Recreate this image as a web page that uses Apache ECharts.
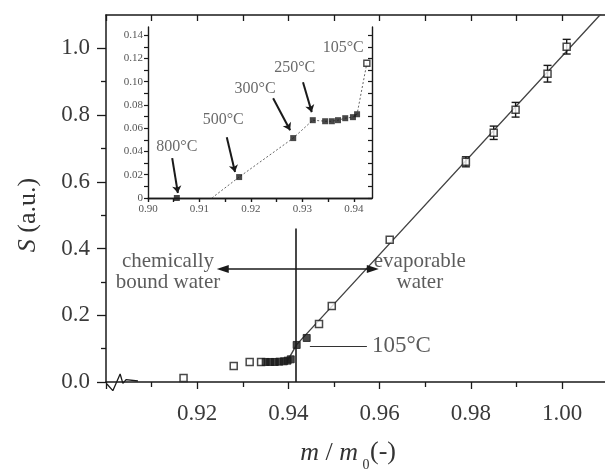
<!DOCTYPE html>
<html><head><meta charset="utf-8">
<script src="https://cdn.jsdelivr.net/npm/echarts@6/dist/echarts.min.js"></script>
<style>html,body{margin:0;padding:0;background:#fff}#c{width:605px;height:470px}</style>
</head><body><div id="c"></div>
<script>
// ---- main plot data ----
const openX = [0.9170, 0.9280, 0.9315, 0.9340, 0.9467, 0.9495, 0.9622, 0.9789, 0.9850, 0.9898, 0.9968, 1.0010];
const openY = [0.012, 0.048, 0.060, 0.060, 0.174, 0.228, 0.426, 0.660, 0.747, 0.816, 0.924, 1.005];
const openErr = [0, 0, 0, 0, 0, 0, 0, 0.015, 0.020, 0.022, 0.025, 0.022];
const filledX = [0.9350, 0.9360, 0.9370, 0.9380, 0.9390, 0.9398, 0.9405, 0.9418, 0.9440];
const filledY = [0.060, 0.060, 0.060, 0.061, 0.062, 0.064, 0.068, 0.111, 0.132];
const fitX = [0.9398, 0.9418, 1.0087];
const fitY = [0.064, 0.112, 1.106];
const noiseX = [0.9002, 0.9015, 0.9031, 0.9037, 0.9044, 0.9048, 0.9070];
const noiseY = [-0.006, -0.026, 0.024, -0.004, 0.007, 0.003, 0.003];
const xMajor = [0.90, 0.92, 0.94, 0.96, 0.98, 1.00];
const xLabels = [0.92, 0.94, 0.96, 0.98, 1.00];
const xMinor = [0.91, 0.93, 0.95, 0.97, 0.99];
const yMajor = [0.0, 0.2, 0.4, 0.6, 0.8, 1.0];
const yMinor = [0.1, 0.3, 0.5, 0.7, 0.9];
// annotations (data coordinates)
const vLineX = 0.9416, vLineY = [0, 0.46];
const arrowY = 0.339, arrowX = [0.9256, 0.9585];
const leadY = 0.108, leadX = [0.9447, 0.9572];
const noteText = ['chemically\nbound water', 'evaporable\nwater'];
const noteX = [0.9136, 0.9688];
const noteY = [0.330, 0.330];
const tempText = '105°C', tempX = 0.9583, tempY = 0.108;

// ---- inset data ----
const insetFX = [0.9056, 0.9177, 0.9282, 0.9320, 0.9344, 0.9357, 0.9369, 0.9383, 0.9398, 0.9406];
const insetFY = [0.000, 0.018, 0.0515, 0.0669, 0.0660, 0.0660, 0.0669, 0.0686, 0.0695, 0.0720];
const insetOX = [0.9425];
const insetOY = [0.1158];
const insetLineX = [0.9124, 0.9177, 0.9282, 0.9320, 0.9344, 0.9357, 0.9369, 0.9383, 0.9398, 0.9406, 0.9425];
const insetLineY = [0.000, 0.018, 0.0515, 0.0669, 0.0660, 0.0660, 0.0669, 0.0686, 0.0695, 0.0720, 0.1158];
const insetLabels = ['800°C', '500°C', '300°C', '250°C', '105°C'];
const insetLabX = [0.9056, 0.9146, 0.9208, 0.9285, 0.9379];
const insetLabY = [0.0437, 0.0669, 0.0943, 0.1123, 0.1295];
const arrFromX = [0.9047, 0.9153, 0.9243, 0.9301];
const arrFromY = [0.0343, 0.0523, 0.0858, 0.0995];
const arrToX = [0.9058, 0.9169, 0.9276, 0.9318];
const arrToY = [0.0043, 0.0223, 0.0583, 0.0738];
const insXTicks = [0.90, 0.905, 0.91, 0.915, 0.92, 0.925, 0.93, 0.935, 0.94];
const insXLabels = [0.90, 0.91, 0.92, 0.93, 0.94];
const insYTicks = [0, 0.01, 0.02, 0.03, 0.04, 0.05, 0.06, 0.07, 0.08, 0.09, 0.10, 0.11, 0.12, 0.13, 0.14];
const insYLabels = [0, 0.02, 0.04, 0.06, 0.08, 0.10, 0.12, 0.14];

const FONT = "'Liberation Serif','Times New Roman',serif";
const INK = '#1a1a1a';
const TXT = '#3a3a3a';
const X_MAX = 1.0094;

const chart = echarts.init(document.getElementById('c'), null, {renderer: 'canvas'});
const zip = (a, b) => a.map((v, i) => [v, b[i]]);
const lineStyleAxis = {color: INK, width: 1.5};

const option = {
  animation: false,
  backgroundColor: '#fff',
  grid: [
    {left: 106, top: 15, right: 0, height: 367},
    {left: 148, top: 27, width: 224, height: 171}
  ],
  xAxis: [
    {gridIndex: 0, type: 'value', min: 0.90, max: X_MAX, position: 'bottom',
      axisLine: {lineStyle: lineStyleAxis}, splitLine: {show: false},
      axisTick: {show: true, inside: false, length: 7, lineStyle: {color: INK, width: 1.3}, customValues: xMajor},
      axisLabel: {customValues: xLabels, formatter: v => v.toFixed(2), fontFamily: FONT, fontSize: 23, color: TXT, margin: 20}},
    {gridIndex: 0, type: 'value', min: 0.90, max: X_MAX, position: 'bottom',
      axisLine: {show: false}, splitLine: {show: false},
      axisTick: {show: true, inside: false, length: 5, lineStyle: {color: INK, width: 1.3}, customValues: xMinor},
      axisLabel: {show: false}},
    {gridIndex: 0, type: 'value', min: 0.90, max: X_MAX, position: 'top',
      axisLine: {lineStyle: lineStyleAxis}, splitLine: {show: false},
      axisTick: {show: true, inside: true, length: 6, lineStyle: {color: INK, width: 1.3}, customValues: xMajor.concat(xMinor)},
      axisLabel: {show: false}},
    {gridIndex: 1, type: 'value', min: 0.90, max: 0.9435, position: 'bottom',
      axisLine: {lineStyle: {color: INK, width: 1.4}}, splitLine: {show: false},
      axisTick: {show: true, inside: false, length: 4, lineStyle: {color: INK, width: 1.2}, customValues: insXTicks},
      axisLabel: {customValues: insXLabels, formatter: v => v.toFixed(2), fontFamily: FONT, fontSize: 11, color: '#555', margin: 6}},
    {gridIndex: 1, type: 'value', min: 0.90, max: 0.9435, position: 'top',
      axisLine: {lineStyle: {color: INK, width: 1.4}}, splitLine: {show: false},
      axisTick: {show: true, inside: true, length: 4, lineStyle: {color: INK, width: 1.2}, customValues: insXTicks},
      axisLabel: {show: false}}
  ],
  yAxis: [
    {gridIndex: 0, type: 'value', min: 0, max: 1.1, position: 'left',
      axisLine: {lineStyle: lineStyleAxis}, splitLine: {show: false},
      axisTick: {show: true, inside: false, length: 9, lineStyle: {color: INK, width: 1.3}, customValues: yMajor},
      axisLabel: {customValues: yMajor, formatter: v => v.toFixed(1), fontFamily: FONT, fontSize: 23, color: TXT, margin: 16}},
    {gridIndex: 0, type: 'value', min: 0, max: 1.1, position: 'left',
      axisLine: {show: false}, splitLine: {show: false},
      axisTick: {show: true, inside: false, length: 5, lineStyle: {color: INK, width: 1.3}, customValues: yMinor},
      axisLabel: {show: false}},
    {gridIndex: 1, type: 'value', min: 0, max: 0.147, position: 'left',
      axisLine: {lineStyle: {color: INK, width: 1.4}}, splitLine: {show: false},
      axisTick: {show: true, inside: false, length: 4, lineStyle: {color: INK, width: 1.2}, customValues: insYTicks},
      axisLabel: {customValues: insYLabels, formatter: v => v === 0 ? '0' : v.toFixed(2), fontFamily: FONT, fontSize: 11, color: '#555', margin: 5}},
    {gridIndex: 1, type: 'value', min: 0, max: 0.147, position: 'right',
      axisLine: {lineStyle: {color: INK, width: 1.4}}, splitLine: {show: false},
      axisTick: {show: true, inside: true, length: 4, lineStyle: {color: INK, width: 1.2}, customValues: insYTicks},
      axisLabel: {show: false}}
  ],
  series: [
    // fit line + annotation lines
    {type: 'line', xAxisIndex: 0, yAxisIndex: 0, data: zip(fitX, fitY), symbol: 'none',
      lineStyle: {color: '#444', width: 1.4}, z: 2,
      markLine: {silent: true, symbol: 'none', label: {show: false}, animation: false,
        data: [
          [{coord: [vLineX, vLineY[0]], lineStyle: {color: INK, width: 1.6, type: 'solid'}}, {coord: [vLineX, vLineY[1]]}],
          [{coord: [arrowX[0], arrowY], symbol: 'triangle', symbolSize: [8, 12], symbolRotate: 90, lineStyle: {color: INK, width: 1.5, type: 'solid'}},
           {coord: [arrowX[1], arrowY], symbol: 'triangle', symbolSize: [8, 12], symbolRotate: -90}],
          [{coord: [leadX[0], leadY], lineStyle: {color: '#333', width: 1.1, type: 'solid'}}, {coord: [leadX[1], leadY]}]
        ]}},
    {type: 'line', xAxisIndex: 0, yAxisIndex: 0, data: zip(noiseX, noiseY), symbol: 'none', clip: false,
      lineStyle: {color: INK, width: 1.3}, z: 3},
    // error bars
    {type: 'custom', xAxisIndex: 0, yAxisIndex: 0, z: 3,
      data: openX.map((x, i) => [x, openY[i] - openErr[i], openY[i] + openErr[i]]).filter(d => d[2] > d[1]),
      renderItem: (params, api) => {
        const lo = api.coord([api.value(0), api.value(1)]);
        const hi = api.coord([api.value(0), api.value(2)]);
        const w = 4, st = {stroke: INK, lineWidth: 1.4};
        return {type: 'group', children: [
          {type: 'line', shape: {x1: lo[0], y1: lo[1], x2: hi[0], y2: hi[1]}, style: st},
          {type: 'line', shape: {x1: lo[0] - w, y1: lo[1], x2: lo[0] + w, y2: lo[1]}, style: st},
          {type: 'line', shape: {x1: hi[0] - w, y1: hi[1], x2: hi[0] + w, y2: hi[1]}, style: st}
        ]};
      }},
    {type: 'scatter', xAxisIndex: 0, yAxisIndex: 0, data: zip(openX, openY), symbol: 'rect', symbolSize: 7,
      itemStyle: {color: '#fff', borderColor: INK, borderWidth: 1.5}, z: 5},
    {type: 'scatter', xAxisIndex: 0, yAxisIndex: 0, data: zip(filledX, filledY), symbol: 'rect', symbolSize: 7,
      itemStyle: {color: INK, borderColor: INK, borderWidth: 1}, z: 5},
    // main texts
    {type: 'scatter', xAxisIndex: 0, yAxisIndex: 0, symbolSize: 0, z: 6, silent: true,
      data: noteX.map((x, i) => [x, noteY[i], noteText[i]]),
      label: {show: true, position: 'inside', formatter: p => p.data[2], fontFamily: FONT, fontSize: 21,
        lineHeight: 21, color: '#333', align: 'center', verticalAlign: 'middle'}},
    {type: 'scatter', xAxisIndex: 0, yAxisIndex: 0, symbolSize: 0, z: 6, silent: true,
      data: [[tempX, tempY, tempText]],
      label: {show: true, position: 'right', distance: 0, formatter: p => p.data[2], fontFamily: FONT, fontSize: 23, color: '#333'}},
    // inset
    {type: 'line', xAxisIndex: 3, yAxisIndex: 2, data: zip(insetLineX, insetLineY), symbol: 'none',
      lineStyle: {color: '#666', width: 1, type: [2, 2]}, z: 2,
      markLine: {silent: true, symbol: ['none', 'arrow'], symbolSize: 7, label: {show: false},
        lineStyle: {color: INK, width: 2, type: 'solid'},
        data: arrFromX.map((x, i) => [{coord: [x, arrFromY[i]]}, {coord: [arrToX[i], arrToY[i]]}])}},
    {type: 'scatter', xAxisIndex: 3, yAxisIndex: 2, data: zip(insetFX, insetFY), symbol: 'rect', symbolSize: 6,
      itemStyle: {color: INK}, z: 5, clip: false},
    {type: 'scatter', xAxisIndex: 3, yAxisIndex: 2, data: zip(insetOX, insetOY), symbol: 'rect', symbolSize: 6,
      itemStyle: {color: '#fff', borderColor: INK, borderWidth: 1.4}, z: 5},
    {type: 'scatter', xAxisIndex: 3, yAxisIndex: 2, symbolSize: 0, z: 6, silent: true,
      data: insetLabX.map((x, i) => [x, insetLabY[i], insetLabels[i]]),
      label: {show: true, position: 'inside', formatter: p => p.data[2], fontFamily: FONT, fontSize: 16,
        color: '#444', align: 'center', verticalAlign: 'middle'}}
  ],
  graphic: [
    {type: 'text', x: 28, y: 215, rotation: Math.PI / 2, silent: true,
      style: {text: '{i|S} (a.u.)', align: 'center', verticalAlign: 'middle', fill: '#333',
        font: "26px 'Liberation Serif', serif",
        rich: {i: {fontStyle: 'italic', fontFamily: FONT, fontSize: 26, fill: '#333'}}}},
    {type: 'text', x: 358, y: 453, silent: true,
      style: {text: '{i|m} / {i|m}', align: 'right', verticalAlign: 'middle', fill: '#333',
        font: "26px 'Liberation Serif', serif",
        rich: {i: {fontStyle: 'italic', fontFamily: FONT, fontSize: 26, fill: '#333'}}}},
    {type: 'text', x: 366, y: 465, silent: true,
      style: {text: '0', align: 'center', verticalAlign: 'middle', fill: '#333', font: "14px 'Liberation Serif', serif"}},
    {type: 'text', x: 370, y: 452, silent: true,
      style: {text: '(-)', align: 'left', verticalAlign: 'middle', fill: '#333', font: "26px 'Liberation Serif', serif"}}
  ]
};
chart.setOption(option);
</script>
</body></html>
